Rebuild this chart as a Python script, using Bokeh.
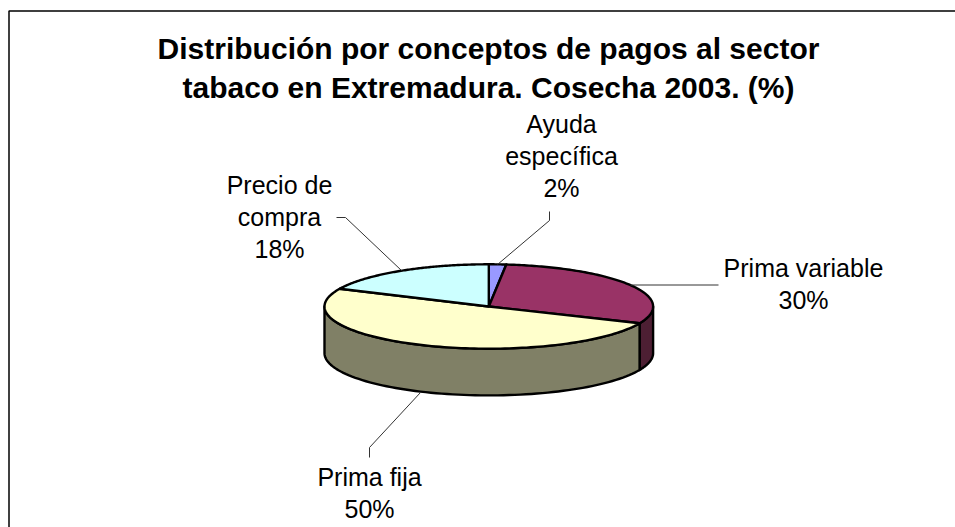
import numpy as np
from bokeh.plotting import figure
from bokeh.embed import file_html
from bokeh.resources import INLINE
from bokeh.core.properties import value

title_lines = ["Distribución por conceptos de pagos al sector", "tabaco en Extremadura. Cosecha 2003. (%)"]
categories = ["Ayuda específica", "Prima variable", "Prima fija", "Precio de compra"]
shares = [1.7, 29.8, 50.4, 18.1]
top_colors = ["#9999FF", "#993366", "#FFFFCC", "#CCFFFF"]
side_colors = ["#4D4D80", "#4D1F33", "#808066", "#668080"]
label_lines = [["Ayuda", "específica", "2%"], ["Prima variable", "30%"], ["Prima fija", "50%"], ["Precio de", "compra", "18%"]]
label_x = [561, 803, 369, 279]
label_y0 = [123.5, 267.5, 476.5, 184.5]
leaders = [([549, 549, 497], [211, 220, 264]),
           ([718, 630], [284.5, 284.5]),
           ([369, 369, 420], [457, 447, 392]),
           ([336, 345, 401], [217, 217, 270])]

CX, CY, RX, RY, DEPTH = 488.3, 306.0, 164.3, 42.2, 46.7
FONT = "Liberation Sans"

p = figure(width=955, height=527, x_range=(0, 955), y_range=(527, 0),
           output_backend="svg", toolbar_location=None, min_border=0)
p.axis.visible = False
p.grid.visible = False
p.outline_line_color = None

# chart frame: only top and left edges fall inside the picture
p.line([955, 8.5, 8.5], [10.5, 10.5, 527], line_color="#000000", line_width=1.5)

def pt(deg):
    a = np.radians(deg)
    return CX + RX * np.sin(a), CY - RY * np.cos(a)

edges = np.cumsum([0] + shares) * 3.6

# side walls (visible between 90 and 270 degrees from the top)
for i, col in enumerate(side_colors):
    a0, a1 = max(edges[i], 90), min(edges[i + 1], 270)
    if a1 <= a0:
        continue
    t = np.linspace(a0, a1, 80)
    x, y = pt(t)
    p.patch(np.r_[x, x[::-1]], np.r_[y, y[::-1] + DEPTH], fill_color=col,
            line_color="#000000", line_width=2.4, line_join="round")

# top faces
for i, col in enumerate(top_colors):
    t = np.linspace(edges[i], edges[i + 1], 120)
    x, y = pt(t)
    p.patch(np.r_[CX, x], np.r_[CY, y], fill_color=col,
            line_color="#000000", line_width=2.4, line_join="round")

for xs, ys in leaders:
    p.line(xs, ys, line_color="#333333", line_width=1)

for lines, lx, ly in zip(label_lines, label_x, label_y0):
    p.text([lx] * len(lines), [ly + 32 * k for k in range(len(lines))], text=lines,
           text_font=value(FONT), text_font_size="25px", text_color="#000000",
           text_align="center", text_baseline="alphabetic")

p.text([488, 488], [48, 87], text=title_lines, text_font=value(FONT), text_font_size="30px",
       text_font_style="bold", text_color="#000000", text_align="center", text_baseline="alphabetic")

open("out.html", "w").write(file_html(p, INLINE))
